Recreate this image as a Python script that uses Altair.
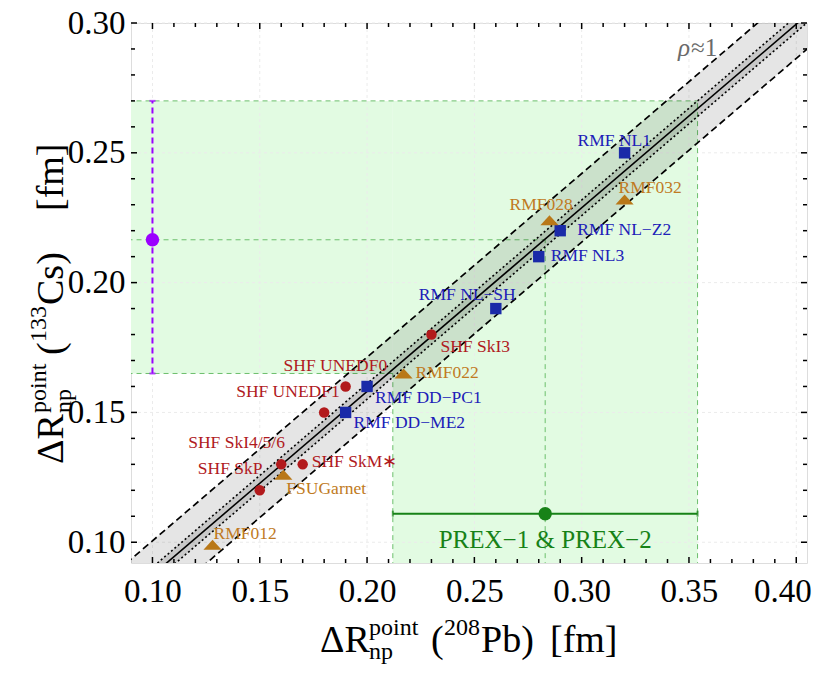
import altair as alt
import pandas as pd

SERIF = "Liberation Serif"

# ---------------- data ----------------
shf_names = ["SHF SkI3", "SHF UNEDF0", "SHF UNEDF1", "SHF SkI4/5/6", "SHF SkM∗", "SHF SkP"]
shf_pb = [0.23, 0.19, 0.18, 0.16, 0.17, 0.15]
shf_cs = [0.18, 0.16, 0.15, 0.13, 0.13, 0.12]

rmf_names = ["RMF NL1", "RMF NL−Z2", "RMF NL3", "RMF NL−SH", "RMF DD−PC1", "RMF DD−ME2"]
rmf_pb = [0.32, 0.29, 0.28, 0.26, 0.20, 0.19]
rmf_cs = [0.25, 0.22, 0.21, 0.19, 0.16, 0.15]

fsu_names = ["RMF032", "RMF028", "RMF022", "FSUGarnet", "RMF012"]
fsu_pb = [0.32, 0.285, 0.217, 0.161, 0.128]
fsu_cs = [0.232, 0.224, 0.165, 0.126, 0.099]

# PREX (208Pb) and 133Cs extracted values
prex_center, prex_lo, prex_hi = 0.283, 0.212, 0.354
cs_center, cs_lo, cs_hi = 0.2165, 0.165, 0.270

# linear correlation fit: y = a + b x, band half-widths
fit_a, fit_b = 0.0166, 0.7074
dash_half, dot_half = 0.0132, 0.003
fit_x = [0.08, 0.42]

x_major = [0.10, 0.15, 0.20, 0.25, 0.30, 0.35, 0.40]
y_major = [0.10, 0.15, 0.20, 0.25, 0.30]
x_minor = [round(0.10 + 0.01 * i, 2) for i in range(31)]
y_minor = [round(0.10 + 0.01 * i, 2) for i in range(21)]

# ---------------- styling ----------------
W, H = 676, 540
XDOM = [0.09, 0.405]
YDOM = [0.092, 0.30]
RED, RED_T = "#b21a1c", "#b01a1e"
BLUE, BLUE_T = "#1a2aa8", "#2020b8"
BROWN, BROWN_T = "#b97818", "#c07a22"
GREEN_FILL = "#e2fbe2"
GREEN_LINE = "#6cbf6c"
PREX_C = "#178217"
PURPLE = "#9b00ff"

shf_off = [(9, 12), (-62, -20), (-88, -20), (-93, -21), (9, -2), (-62, -21)]
rmf_off = [(-47, -12), (17, -1), (12, -1), (-77, -14), (8, 12), (8, 11)]
fsu_off = [(-6, -12), (-40, -15), (12, 0), (3, 14), (1, -11)]

xs = alt.Scale(domain=XDOM, nice=False, zero=False)
ys = alt.Scale(domain=YDOM, nice=False, zero=False)
xaxis = alt.Axis(values=x_major, format=".2f", labelFont=SERIF, labelFontSize=33,
                 labelColor="black", ticks=False, domain=False, grid=False, title=None,
                 labelPadding=12, labelFlush=12, labelFlushOffset=15, labelOverlap=False)
yaxis = alt.Axis(values=y_major, format=".2f", labelFont=SERIF, labelFontSize=33,
                 labelColor="black", ticks=False, domain=False, grid=False, title=None,
                 labelPadding=6, labelFlush=False, labelOverlap=False)


def X(f):
    return alt.X(f, type="quantitative", scale=xs, axis=xaxis)


def Y(f):
    return alt.Y(f, type="quantitative", scale=ys, axis=yaxis)


def X2(f):
    return alt.X2(f)


def Y2(f):
    return alt.Y2(f)


layers = []

# green regions
rects = pd.DataFrame({
    "x": [0.08, prex_lo], "x2": [prex_lo, prex_hi],
    "y": [cs_lo, 0.08], "y2": [cs_hi, cs_hi],
})
layers.append(alt.Chart(rects).mark_rect(color=GREEN_FILL, clip=True).encode(
    x=X("x"), x2=X2("x2"), y=Y("y"), y2=Y2("y2")))

# grid
gx = pd.DataFrame({"v": x_major})
gy = pd.DataFrame({"v": y_major})
layers.append(alt.Chart(gx).mark_rule(color="#ebebeb", strokeWidth=1, strokeDash=[3, 3]).encode(x=X("v")))
layers.append(alt.Chart(gy).mark_rule(color="#ebebeb", strokeWidth=1, strokeDash=[3, 3]).encode(y=Y("v")))

# green dashed guide lines
hl = pd.DataFrame({"y": [cs_hi, cs_lo, cs_center], "x": [0.08, 0.08, 0.08],
                   "x2": [prex_hi, prex_lo, prex_center]})
vl = pd.DataFrame({"x": [prex_lo, prex_hi, prex_center], "y": [0.08, 0.08, 0.08],
                   "y2": [cs_lo, cs_hi, cs_center]})
layers.append(alt.Chart(hl).mark_rule(color=GREEN_LINE, strokeWidth=1, strokeDash=[5, 4], clip=True).encode(
    y=Y("y"), x=X("x"), x2=X2("x2")))
layers.append(alt.Chart(vl).mark_rule(color=GREEN_LINE, strokeWidth=1, strokeDash=[5, 4], clip=True).encode(
    x=X("x"), y=Y("y"), y2=Y2("y2")))

# correlation bands
fit = pd.DataFrame({"x": fit_x})
fit["y"] = [fit_a + fit_b * v for v in fit_x]
fit["ud"] = fit["y"] + dash_half
fit["ld"] = fit["y"] - dash_half
fit["uo"] = fit["y"] + dot_half
fit["lo"] = fit["y"] - dot_half
base = alt.Chart(fit)
layers.append(base.mark_area(color="black", opacity=0.1, clip=True).encode(x=X("x"), y=Y("ld"), y2=Y2("ud")))
layers.append(base.mark_area(color="black", opacity=0.12, clip=True).encode(x=X("x"), y=Y("lo"), y2=Y2("uo")))
for col in ["ud", "ld"]:
    layers.append(base.mark_line(color="black", strokeWidth=1.7, strokeDash=[7, 4], clip=True).encode(
        x=X("x"), y=Y(col)))
for col in ["uo", "lo"]:
    layers.append(base.mark_line(color="black", strokeWidth=1.6, strokeDash=[2, 2.5], clip=True).encode(
        x=X("x"), y=Y(col)))
layers.append(base.mark_line(color="black", strokeWidth=1.6, clip=True).encode(x=X("x"), y=Y("y")))

# frame ticks (inward)
txdf = pd.DataFrame({"v": x_minor, "len": [6 if round(v * 100) % 5 == 0 else 4 for v in x_minor]})
tydf = pd.DataFrame({"v": y_minor, "len": [6 if round(v * 100) % 5 == 0 else 4 for v in y_minor]})
for L in (6, 4):
    sx = txdf[txdf["len"] == L]
    sy = tydf[tydf["len"] == L]
    layers.append(alt.Chart(sx).mark_rule(color="black", strokeWidth=1.5).encode(
        x=X("v"), y=alt.value(H), y2=alt.value(H - L)))
    layers.append(alt.Chart(sx).mark_rule(color="black", strokeWidth=1.5).encode(
        x=X("v"), y=alt.value(0), y2=alt.value(L)))
    layers.append(alt.Chart(sy).mark_rule(color="black", strokeWidth=1.5).encode(
        y=Y("v"), x=alt.value(0), x2=alt.value(L)))
    layers.append(alt.Chart(sy).mark_rule(color="black", strokeWidth=1.5).encode(
        y=Y("v"), x=alt.value(W), x2=alt.value(W - L)))

# Cs error bar (purple)
cs = pd.DataFrame({"x": [0.10], "c": [cs_center], "lo": [cs_lo], "hi": [cs_hi]})
layers.append(alt.Chart(cs).mark_rule(color=PURPLE, strokeWidth=2, strokeDash=[6, 4]).encode(
    x=X("x"), y=Y("lo"), y2=Y2("hi")))
for col in ["lo", "hi"]:
    layers.append(alt.Chart(cs).mark_tick(color=PURPLE, orient="horizontal", size=6, thickness=2).encode(
        x=X("x"), y=Y(col)))
layers.append(alt.Chart(cs).mark_point(color=PURPLE, filled=True, opacity=1, size=180, shape="circle").encode(
    x=X("x"), y=Y("c")))

# PREX error bar (green)
pr = pd.DataFrame({"y": [0.111], "c": [prex_center], "lo": [prex_lo], "hi": [prex_hi]})
layers.append(alt.Chart(pr).mark_rule(color=PREX_C, strokeWidth=2).encode(
    y=Y("y"), x=X("lo"), x2=X2("hi")))
for col in ["lo", "hi"]:
    layers.append(alt.Chart(pr).mark_tick(color=PREX_C, orient="vertical", size=6, thickness=2).encode(
        x=X(col), y=Y("y")))
layers.append(alt.Chart(pr).mark_point(color=PREX_C, filled=True, opacity=1, size=180, shape="circle").encode(
    x=X("c"), y=Y("y")))
layers.append(alt.Chart(pd.DataFrame({"x": [prex_center], "y": [0.1007], "t": ["PREX−1 & PREX−2"]}))
              .mark_text(font=SERIF, fontSize=25, color=PREX_C, align="center", baseline="middle")
              .encode(x=X("x"), y=Y("y"), text="t:N"))

# model points
TRI = "M-1,0.55L1,0.55L0,-0.55Z"
groups = [
    (shf_names, shf_pb, shf_cs, shf_off, RED, RED_T, "circle", 110),
    (rmf_names, rmf_pb, rmf_cs, rmf_off, BLUE, BLUE_T, "square", 130),
    (fsu_names, fsu_pb, fsu_cs, fsu_off, BROWN, BROWN_T, TRI, 330),
]
for names, xv, yv, offs, col, tcol, shape, size in groups:
    df = pd.DataFrame({"name": names, "x": xv, "y": yv})
    layers.append(alt.Chart(df).mark_point(filled=True, opacity=1, color=col, shape=shape, size=size).encode(
        x=X("x"), y=Y("y")))
    for i, (dx, dy) in enumerate(offs):
        layers.append(alt.Chart(df.iloc[[i]]).mark_text(
            font=SERIF, fontSize=17.5, color=tcol, align="left", baseline="middle", dx=dx, dy=dy
        ).encode(x=X("x"), y=Y("y"), text="name:N"))

# rho annotation (pixel offsets relative to plot origin)
layers.append(alt.Chart(pd.DataFrame({"t": ["ρ"]})).mark_text(
    font=SERIF, fontSize=25, fontStyle="italic", color="#6a6a6a", align="left", baseline="alphabetic"
).encode(x=alt.value(547), y=alt.value(33), text="t:N"))
layers.append(alt.Chart(pd.DataFrame({"t": ["≈1"]})).mark_text(
    font=SERIF, fontSize=25, color="#6a6a6a", align="left", baseline="alphabetic"
).encode(x=alt.value(560), y=alt.value(33), text="t:N"))

# axis titles built from pieces (pixel positions relative to plot origin)
MAIN, SCR = 38, 24
xt = [  # text, x, y(baseline), size
    ("ΔR", 189, 629, MAIN),
    ("point", 238, 612, SCR),
    ("np", 238, 636, SCR),
    ("(", 300, 629, MAIN),
    ("208", 313, 612, SCR),
    ("Pb)", 350, 629, MAIN),
    ("[fm]", 419, 629, MAIN),
]
for t, x, y, s in xt:
    layers.append(alt.Chart(pd.DataFrame({"t": [t]})).mark_text(
        font=SERIF, fontSize=s, color="black", align="left", baseline="alphabetic"
    ).encode(x=alt.value(x), y=alt.value(y), text="t:N"))

yt = [  # text, x(baseline), y(start), size  -- rotated
    ("ΔR", -68, 441, MAIN),
    ("point", -85, 390, SCR),
    ("np", -60, 390, SCR),
    ("(", -68, 332, MAIN),
    ("133", -85, 319, SCR),
    ("Cs)", -68, 282, MAIN),
    ("[fm]", -68, 188, MAIN),
]
for t, x, y, s in yt:
    layers.append(alt.Chart(pd.DataFrame({"t": [t]})).mark_text(
        font=SERIF, fontSize=s, color="black", align="left", baseline="alphabetic", angle=270
    ).encode(x=alt.value(x), y=alt.value(y), text="t:N"))

chart = alt.layer(*layers).properties(
    width=W, height=H,
    autosize=alt.AutoSizeParams(type="none"),
    padding={"left": 123, "top": 15, "right": 15, "bottom": 102},
).configure_view(stroke="black", strokeWidth=2).configure(background="white")

chart.save("out.html", embed_options={"renderer": "svg", "actions": False})
